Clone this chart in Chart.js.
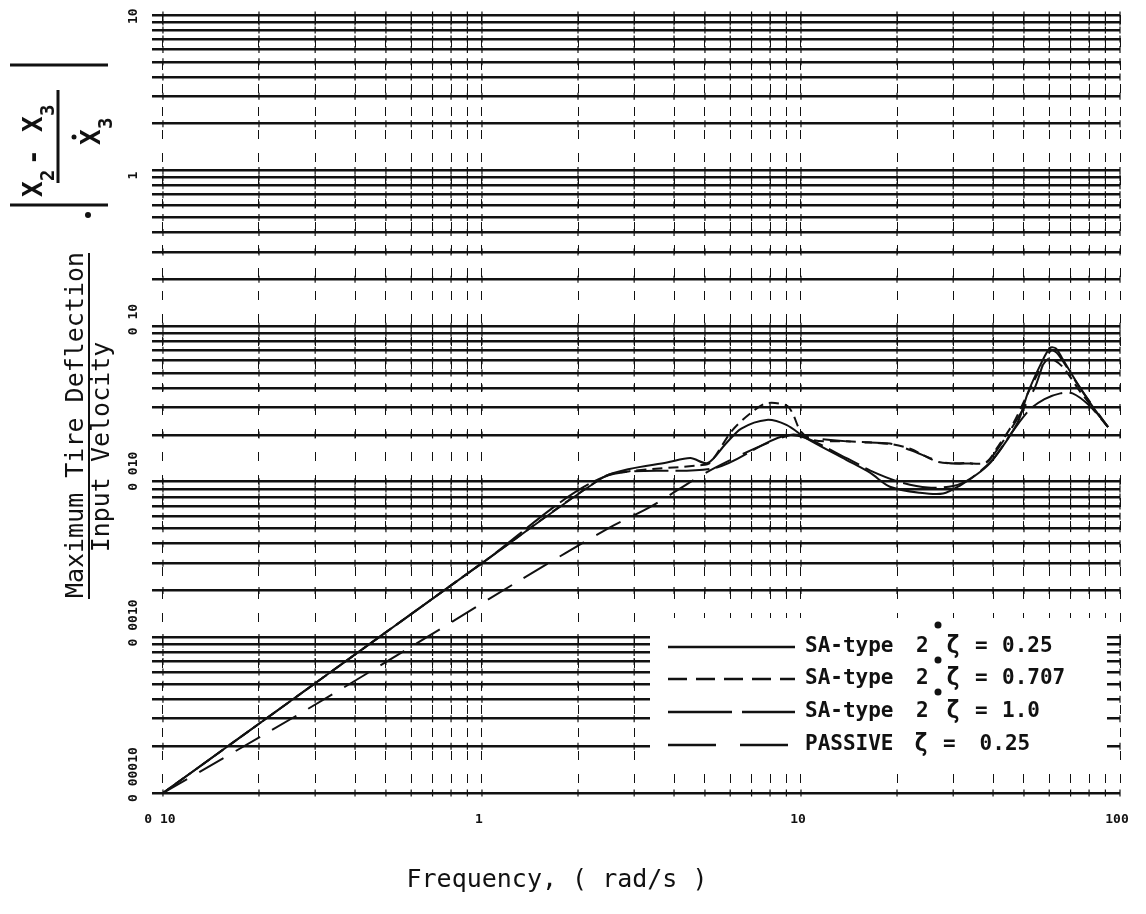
<!DOCTYPE html>
<html>
<head>
<meta charset="utf-8">
<title>Maximum tire deflection / input velocity</title>
<script src="https://cdn.jsdelivr.net/npm/chart.js@4.4.1/dist/chart.umd.min.js"></script>
<style>
  html, body { margin: 0; padding: 0; background: #fff; }
  #wrap { width: 1146px; height: 914px; }
</style>
</head>
<body>
<div id="wrap"><canvas id="chart" width="1146" height="914"></canvas></div>
<script>
// SA-type 2, zeta = 0.25 (solid)
const freqSA025 = [0.1, 1.0, 2.4, 2.9, 3.8, 4.5, 5.1, 5.8, 6.5, 7.8, 9.0, 10.4, 13.9, 16.5, 19.0, 23.6, 27.9, 31.6, 36.5, 40.1, 47.7, 51.4, 56.3, 60.3, 63.0, 65.8, 74.0, 82.5, 91.7];
const respSA025 = [0.0001, 0.0030, 0.0107, 0.0121, 0.0133, 0.0142, 0.0132, 0.0175, 0.0220, 0.0250, 0.0232, 0.0190, 0.0138, 0.0114, 0.0093, 0.0085, 0.0084, 0.0095, 0.0116, 0.0140, 0.0239, 0.0372, 0.0564, 0.0724, 0.0720, 0.0625, 0.0420, 0.0300, 0.0225];

// SA-type 2, zeta = 0.707 (short dash)
const freqSA0707 = [0.1, 1.0, 2.4, 2.9, 4.9, 5.2, 6.1, 7.0, 7.8, 9.0, 9.4, 10.0, 11.0, 14.0, 19.0, 22.0, 27.0, 33.0, 38.0, 41.4, 46.4, 51.4, 56.0, 60.0, 66.0, 75.0, 91.7];
const respSA0707 = [0.0001, 0.0030, 0.0107, 0.0117, 0.0128, 0.0133, 0.0215, 0.0279, 0.0320, 0.0310, 0.0277, 0.0210, 0.0185, 0.0182, 0.0175, 0.0163, 0.0134, 0.0132, 0.0133, 0.0168, 0.0240, 0.0370, 0.0520, 0.0620, 0.0550, 0.0380, 0.0225];

// SA-type 2, zeta = 1.0 (long dash)
const freqSA10 = [0.1, 1.0, 2.4, 5.4, 9.25, 13.9, 16.5, 20.3, 25.0, 30.0, 34.0, 40.0, 46.0, 52.0, 58.0, 65.0, 71.0, 80.0, 91.7];
const respSA10 = [0.0001, 0.0030, 0.0107, 0.0123, 0.0200, 0.0142, 0.0118, 0.0100, 0.0092, 0.0094, 0.0105, 0.0140, 0.0210, 0.0290, 0.0340, 0.0370, 0.0370, 0.0310, 0.0225];

// passive, zeta = 0.25 (spaced dash)
const freqPassive = [0.1, 0.28, 0.67, 1.32, 2.52, 3.37, 5.37, 9.25, 11.0, 15.0, 19.0, 22.0, 28.0, 34.0, 38.0, 42.0, 48.0, 54.0, 58.0, 61.0, 64.0, 75.0, 91.7];
const respPassive = [0.0001, 0.00034, 0.0010, 0.00234, 0.0051, 0.0069, 0.0123, 0.0200, 0.0190, 0.0180, 0.0176, 0.0160, 0.0133, 0.0131, 0.0133, 0.0170, 0.0260, 0.0400, 0.0600, 0.0700, 0.0660, 0.0400, 0.0225];

// grid positions and axis labels
const xGrid = [0.1, 0.2, 0.3, 0.4, 0.5, 0.6, 0.7, 0.8, 0.9, 1, 2, 3, 4, 5, 6, 7, 8, 9, 10, 20, 30, 40, 50, 60, 70, 80, 90, 100];
const yGrid = [0.0001, 0.0002, 0.0003, 0.0004, 0.0005, 0.0006, 0.0007, 0.0008, 0.0009,
               0.001, 0.002, 0.003, 0.004, 0.005, 0.006, 0.007, 0.008, 0.009,
               0.01, 0.02, 0.03, 0.04, 0.05, 0.06, 0.07, 0.08, 0.09,
               0.1, 0.2, 0.3, 0.4, 0.5, 0.6, 0.7, 0.8, 0.9,
               1, 2, 3, 4, 5, 6, 7, 8, 9, 10];
const xLabelValues = [0.1, 1, 10, 100];
const xLabels = ['0 10', '1', '10', '100'];
const yLabelValues = [10, 1, 0.1, 0.01, 0.001, 0.0001];
const yLabels = ['10', '1', '0 10', '0 010', '0 0010', '0 00010'];

// legend rows
const legendNames = ['SA-type', 'SA-type', 'SA-type', 'PASSIVE'];
const legendOrder = ['2', '2', '2', ''];
const legendZeta = ['0.25', '0.707', '1.0', '0.25'];

const INK = '#111';
const MONO = '"DejaVu Sans Mono", "Liberation Mono", monospace';

function points(xs, ys) {
    return xs.map((x, i) => ({ x: x, y: ys[i] }));
}

function curve(label, xs, ys, dash) {
    return {
        label: label,
        data: points(xs, ys),
        borderColor: INK,
        borderWidth: 2,
        borderDash: dash,
        pointRadius: 0,
        tension: 0.3,
        fill: false
    };
}

const curveDashes = [[], [10, 6], [34, 7], [28, 14]];
const legendDashes = [[], [19, 9], [64, 10], [48, 24]];

// white panel with the key, drawn over the grid
const keyPlugin = {
    id: 'keyPanel',
    beforeDatasetsDraw(chart) {
        const ctx = chart.ctx;
        ctx.save();
        ctx.fillStyle = '#fff';
        ctx.fillRect(650, 618, 457, 148);

        const rowsY = [647, 679, 712, 745];
        ctx.strokeStyle = INK;
        ctx.fillStyle = INK;
        ctx.lineWidth = 2.4;
        ctx.textBaseline = 'middle';
        ctx.textAlign = 'left';
        rowsY.forEach((y, i) => {
            ctx.setLineDash(legendDashes[i]);
            ctx.beginPath();
            ctx.moveTo(668, y);
            ctx.lineTo(795, y);
            ctx.stroke();
            ctx.setLineDash([]);

            // the passive row has no order number, so its text sits further left
            const shift = legendOrder[i] ? 0 : -32;
            ctx.font = 'bold 21px ' + MONO;
            ctx.fillText(legendNames[i], 805, y);
            if (legendOrder[i]) ctx.fillText(legendOrder[i], 916, y);
            ctx.font = 'bold 24px ' + MONO;
            ctx.fillText('\u03b6', 946 + shift, y);
            ctx.font = 'bold 21px ' + MONO;
            ctx.fillText('=', 975 + shift, y);
            ctx.fillText(legendZeta[i], 1002 + shift * 0.7, y);
        });
        // marks beside the order numbers
        [[938, 625], [938, 660], [938, 692]].forEach(([x, y]) => {
            ctx.beginPath();
            ctx.arc(x, y, 3.5, 0, Math.PI * 2);
            ctx.fill();
        });
        ctx.restore();
    }
};

// intersection marks, tick labels and axis titles
const frameTextPlugin = {
    id: 'frameText',
    beforeDatasetsDraw(chart) {
        const ctx = chart.ctx;
        const xs = chart.scales.x, ys = chart.scales.y;
        ctx.save();
        ctx.strokeStyle = INK;
        ctx.lineWidth = 1.2;
        xGrid.forEach(xv => {
            const px = xs.getPixelForValue(xv);
            yGrid.forEach(yv => {
                const py = ys.getPixelForValue(yv);
                if (px > 648 && px < 1108 && py > 618 && py < 766) return;
                ctx.beginPath();
                ctx.moveTo(px, py - 3.5);
                ctx.lineTo(px, py + 3.5);
                ctx.stroke();
            });
        });
        ctx.restore();
    },
    afterDraw(chart) {
        const ctx = chart.ctx;
        const xs = chart.scales.x, ys = chart.scales.y;
        ctx.save();
        ctx.fillStyle = INK;
        ctx.strokeStyle = INK;

        // x tick labels
        ctx.font = 'bold 13px ' + MONO;
        ctx.textAlign = 'center';
        ctx.textBaseline = 'middle';
        xLabelValues.forEach((v, i) => {
            ctx.fillText(xLabels[i], xs.getPixelForValue(v) - 3, 820);
        });

        // y tick labels, reading upward
        yLabelValues.forEach((v, i) => {
            const py = ys.getPixelForValue(v);
            ctx.save();
            ctx.translate(134, py + 9);
            ctx.rotate(-Math.PI / 2);
            ctx.textAlign = 'left';
            ctx.textBaseline = 'middle';
            ctx.fillText(yLabels[i], 0, 0);
            ctx.restore();
        });

        // x axis title
        ctx.font = '25px ' + MONO;
        ctx.textAlign = 'center';
        ctx.textBaseline = 'middle';
        ctx.fillText('Frequency, ( rad/s )', 557, 880);

        // y axis title: fraction, comma, |(X2 - X3) / X3dot|
        ctx.save();
        ctx.translate(75, 425);
        ctx.rotate(-Math.PI / 2);
        ctx.font = '25px ' + MONO;
        ctx.textAlign = 'center';
        ctx.textBaseline = 'alphabetic';
        ctx.fillText('Maximum Tire Deflection', 0, 8);
        ctx.lineWidth = 2;
        ctx.beginPath();
        ctx.moveTo(-174, 14);
        ctx.lineTo(172, 14);
        ctx.stroke();
        ctx.fillText('Input Velocity', -22, 34);
        ctx.restore();

        ctx.beginPath();
        ctx.arc(88, 215, 3, 0, Math.PI * 2);
        ctx.fill();

        ctx.save();
        ctx.translate(60, 135);
        ctx.rotate(-Math.PI / 2);
        ctx.textAlign = 'left';
        ctx.textBaseline = 'alphabetic';
        ctx.font = 'bold 26px ' + MONO;
        ctx.fillText('X', -62, -18);
        ctx.fillText('-', -30, -18);
        ctx.fillText('X', 3, -18);
        ctx.fillText('X', -10, 40);
        ctx.font = 'bold 19px ' + MONO;
        ctx.fillText('2', -46, -6);
        ctx.fillText('3', 19, -6);
        ctx.fillText('3', 6, 52);
        ctx.beginPath();
        ctx.arc(-2, 14, 2.5, 0, Math.PI * 2);
        ctx.fill();
        ctx.lineWidth = 3;
        ctx.beginPath();
        ctx.moveTo(-48, -2);
        ctx.lineTo(45, -2);
        ctx.moveTo(70, -50);
        ctx.lineTo(70, 48);
        ctx.moveTo(-70, -50);
        ctx.lineTo(-70, 48);
        ctx.stroke();
        ctx.restore();

        ctx.restore();
    }
};

new Chart(document.getElementById('chart'), {
    type: 'line',
    data: {
        datasets: [
            curve('SA-type 2 \u03b6 = 0.25', freqSA025, respSA025, curveDashes[0]),
            curve('SA-type 2 \u03b6 = 0.707', freqSA0707, respSA0707, curveDashes[1]),
            curve('SA-type 2 \u03b6 = 1.0', freqSA10, respSA10, curveDashes[2]),
            curve('PASSIVE \u03b6 = 0.25', freqPassive, respPassive, curveDashes[3])
        ]
    },
    options: {
        responsive: false,
        animation: false,
        devicePixelRatio: 1,
        layout: { padding: { left: 152, right: 26, top: 15, bottom: 121 } },
        plugins: {
            legend: { display: false },
            tooltip: { enabled: false }
        },
        scales: {
            x: {
                type: 'logarithmic',
                min: 0.0924,
                max: 100,
                afterBuildTicks: axis => { axis.ticks = xGrid.map(v => ({ value: v })); },
                ticks: { display: false },
                grid: { color: INK, lineWidth: 1, drawTicks: false },
                border: { display: false, dash: [9, 14] }
            },
            y: {
                type: 'logarithmic',
                min: 0.0001,
                max: 10,
                afterBuildTicks: axis => { axis.ticks = yGrid.map(v => ({ value: v })); },
                ticks: { display: false },
                grid: { color: INK, lineWidth: 2.6, drawTicks: false },
                border: { display: false }
            }
        }
    },
    plugins: [frameTextPlugin, keyPlugin]
});
</script>
</body>
</html>
